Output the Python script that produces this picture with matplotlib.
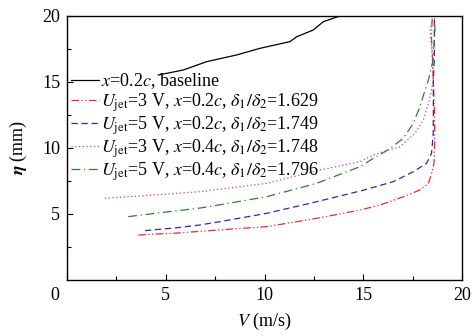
import matplotlib
matplotlib.use("Agg")
import matplotlib.pyplot as plt
import matplotlib.transforms as mtransforms

plt.rcParams['font.family'] = ['Liberation Serif', 'DejaVu Serif']
plt.rcParams['mathtext.fontset'] = 'stix'
plt.rcParams['font.size'] = 12

# ---- data (V in m/s, eta in mm) ----
base_v = [4.62, 5.89, 7.07, 8.59, 9.77, 11.29, 11.63, 12.47, 12.98, 13.82]
base_eta = [15.53, 15.91, 16.54, 17.05, 17.55, 18.06, 18.43, 18.94, 19.57, 20.0]

red_v = [3.61, 5.5, 7.75, 10.11, 12.64, 14.84, 15.85, 17.03, 17.87, 18.3, 18.46, 18.58, 18.6, 18.62, 18.6, 18.55, 18.5, 18.45, 18.5]
red_eta = [3.41, 3.55, 3.8, 4.04, 4.67, 5.30, 5.68, 6.31, 6.82, 7.33, 8.08, 8.84, 9.6, 11.0, 13.0, 15.0, 17.0, 18.5, 20.0]

blue_v = [3.95, 5.5, 6.73, 7.75, 10.11, 12.64, 15.0, 16.52, 17.53, 18.21, 18.46, 18.54, 18.55, 18.55, 18.6, 18.6]
blue_eta = [3.74, 3.95, 4.17, 4.42, 5.05, 5.93, 6.8, 7.45, 8.2, 8.84, 9.6, 11.0, 13.0, 15.0, 17.0, 20.0]

mag_v = [1.92, 4.0, 6.73, 10.11, 12.81, 14.84, 15.51, 16.01, 16.86, 17.62, 18.04, 18.3, 18.46, 18.54, 18.5, 18.38, 18.53]
mag_eta = [6.19, 6.4, 6.69, 7.32, 8.33, 8.96, 9.47, 9.72, 10.1, 11.11, 12.12, 13.38, 14.39, 15.15, 17.0, 18.94, 20.0]

green_v = [3.10, 5.0, 6.73, 7.75, 10.11, 12.64, 14.84, 15.51, 16.1, 16.35, 17.03, 17.53, 17.87, 18.13, 18.3, 18.38, 18.54, 18.63, 18.6]
green_eta = [4.80, 5.15, 5.45, 5.7, 6.31, 7.32, 8.59, 9.22, 9.72, 9.97, 10.73, 11.87, 13.13, 14.39, 15.15, 15.66, 16.67, 18.94, 20.0]

labels = [
    r'$x$=0.2$c$, baseline',
    r'$U_{\rm jet}$=3 V, $x$=0.2$c$, $\delta_1/\delta_2$=1.629',
    r'$U_{\rm jet}$=5 V, $x$=0.2$c$, $\delta_1/\delta_2$=1.749',
    r'$U_{\rm jet}$=3 V, $x$=0.4$c$, $\delta_1/\delta_2$=1.748',
    r'$U_{\rm jet}$=5 V, $x$=0.4$c$, $\delta_1/\delta_2$=1.796',
]
xticks = [0, 5, 10, 15, 20]
yticks = [5, 10, 15, 20]

fig = plt.figure(figsize=(4.72, 3.36), dpi=100)
ax = fig.add_axes([67/472, 1-280/336, (462-67)/472, (280-16)/336])

lw = 0.9
ax.plot(base_v, base_eta, color='black', lw=lw, label=labels[0])
ax.plot(red_v, red_eta, color='#ee2a2a', lw=lw, ls=(0, (6, 2, 1, 2, 1, 2)), label=labels[1])
ax.plot(blue_v, blue_eta, color='#2a2ab0', lw=lw, ls=(0, (5, 3)), label=labels[2])
ax.plot(mag_v, mag_eta, color='#c040c0', lw=lw, ls=(0, (1, 2)), label=labels[3])
ax.plot(green_v, green_eta, color='#2f7f2f', lw=lw, ls=(0, (7, 3, 1, 3)), label=labels[4])

ax.set_xlim(0, 20)
ax.set_ylim(0, 20)
ax.set_xticks(xticks)
ax.set_yticks(yticks)
ax.set_xticks([2.5, 7.5, 12.5, 17.5], minor=True)
ax.set_yticks([2.5, 7.5, 12.5, 17.5], minor=True)
ax.tick_params(which='major', direction='in', length=4.5, width=0.8, labelsize=13, pad=5)
ax.tick_params(which='minor', direction='in', length=3, width=0.8)
for s in ax.spines.values():
    s.set_linewidth(1.0)

# shift the corner "0" label left
lab0 = ax.get_xticklabels()[0]
off = mtransforms.ScaledTranslation(-12/100, 0, fig.dpi_scale_trans)
lab0.set_transform(lab0.get_transform() + off)

ax.set_xlabel(r'$V$ (m/s)', fontsize=13, labelpad=5)
ax.set_ylabel(r'$\boldsymbol{\eta}$ (mm)', fontsize=13, labelpad=9)

ax.legend(loc='upper left', bbox_to_anchor=(0.0, 0.805), frameon=False,
          fontsize=13, handlelength=1.55, handletextpad=0.15, labelspacing=0.02,
          borderaxespad=0, borderpad=0.2)

fig.savefig('out.png', dpi=100)
